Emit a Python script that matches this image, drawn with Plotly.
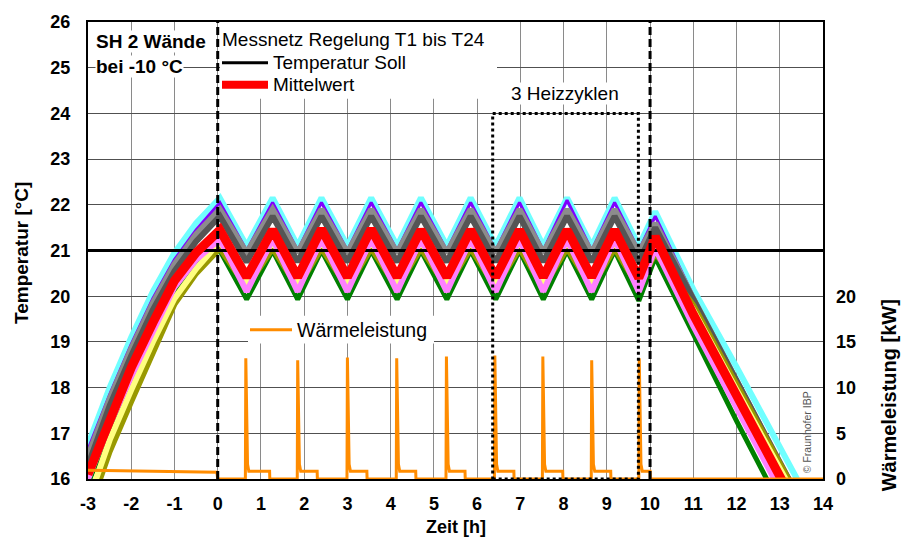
import plotly.graph_objects as go

# ---------------- data ----------------
# shared key times [h]
key_t = [-3.0, -2.5, -2.0, -1.5, -1.0, -0.5,
         0.05, 0.67, 1.27, 1.85, 2.4, 3.0, 3.55, 4.15, 4.7, 5.3, 5.85, 6.43,
         6.98, 7.53, 8.08, 8.65, 9.18, 9.74, 10.12,
         11.0, 12.0, 13.0, 13.6]

# sensor temperatures [°C] at key times
t_cyan   = [16.75, 18.0, 19.1, 20.1, 20.95, 21.6,
            22.15, 21.1, 22.15, 21.1, 22.15, 21.1, 22.15, 21.1, 22.15, 21.1, 22.15, 21.1,
            22.15, 21.1, 22.15, 21.1, 22.15, 21.1, 21.85,
            20.15, 18.45, 16.7, 15.65]
t_purple = [16.65, 17.85, 18.95, 19.95, 20.8, 21.45,
            22.05, 21.0, 22.05, 21.0, 22.05, 21.0, 22.05, 21.0, 22.05, 21.0, 22.05, 21.0,
            22.05, 21.0, 22.1, 21.0, 22.05, 21.0, 21.75,
            20.0, 18.2, 16.4, 15.4]
t_lgray  = [16.5, 17.75, 18.85, 19.85, 20.7, 21.35,
            21.9, 20.95, 21.9, 20.95, 21.9, 20.95, 21.9, 20.95, 21.9, 20.95, 21.9, 20.95,
            21.9, 20.95, 21.9, 20.95, 21.9, 20.95, 21.6,
            19.95, 18.15, 16.35, 15.3]
t_dgray  = [16.3, 17.6, 18.7, 19.7, 20.55, 21.2,
            21.75, 20.75, 21.75, 20.75, 21.75, 20.75, 21.75, 20.75, 21.75, 20.75, 21.75, 20.75,
            21.75, 20.75, 21.75, 20.75, 21.75, 20.75, 21.5,
            19.9, 18.15, 16.35, 15.3]
t_blue   = [16.1, 17.3, 18.4, 19.4, 20.3, 20.9,
            21.3, 20.3, 21.3, 20.3, 21.3, 20.3, 21.3, 20.3, 21.3, 20.3, 21.3, 20.3,
            21.3, 20.3, 21.3, 20.3, 21.3, 20.3, 21.1,
            19.45, 17.7, 15.9, 14.9]
t_green  = [15.9, 17.05, 18.1, 19.15, 20.05, 20.7,
            21.0, 19.93, 21.0, 19.93, 21.0, 19.93, 21.0, 19.93, 21.0, 19.93, 21.0, 19.93,
            21.0, 19.93, 21.0, 19.93, 21.0, 19.9, 20.85,
            19.15, 17.27, 15.45, 14.4]
t_olive  = [15.25, 16.6, 17.7, 18.8, 19.83, 20.5,
            21.05, 20.2, 21.05, 20.2, 21.05, 20.2, 21.05, 20.2, 21.05, 20.2, 21.05, 20.2,
            21.05, 20.2, 21.05, 20.2, 21.05, 20.2, 20.95,
            19.8, 18.05, 16.3, 15.3]
t_yellow = [15.5, 16.85, 17.95, 19.0, 19.95, 20.6,
            21.2, 20.3, 21.2, 20.3, 21.2, 20.3, 21.2, 20.3, 21.2, 20.3, 21.2, 20.3,
            21.2, 20.3, 21.2, 20.3, 21.2, 20.3, 21.05,
            19.7, 17.95, 16.2, 15.2]
t_pink   = [16.0, 17.2, 18.25, 19.25, 20.2, 20.8,
            21.25, 20.1, 21.25, 20.1, 21.25, 20.1, 21.25, 20.1, 21.25, 20.1, 21.25, 20.1,
            21.25, 20.1, 21.25, 20.1, 21.25, 20.1, 21.05,
            19.35, 17.55, 15.75, 14.7]
t_mean   = [16.1, 17.33, 18.44, 19.42, 20.34, 20.95,
            21.45, 20.42, 21.45, 20.42, 21.47, 20.42, 21.47, 20.42, 21.45, 20.42, 21.45, 20.42,
            21.45, 20.42, 21.45, 20.42, 21.45, 20.4, 21.3,
            19.6, 17.85, 16.1, 15.0]

soll_t = [-3, 14]
soll_v = [21, 21]

# heating power [kW]
pre_t = [-3.0, -2.0, -1.0, -0.02, 0.0]
pre_p = [0.95, 0.9, 0.85, 0.75, 0.0]
spike_t = [0.65, 1.85, 3.0, 4.14, 5.29, 6.41, 7.52, 8.65, 9.75]
spike_p = [13.2, 13.0, 13.3, 13.2, 13.4, 13.5, 13.4, 13.0, 13.2]
flat_end = [1.2, 2.3, 3.45, 4.58, 5.72, 6.85, 7.98, 9.09, 10.0]
flat_p = [0.85, 0.85, 0.85, 0.85, 0.85, 0.85, 0.85, 0.85, 0.85]

x_ticks = list(range(-3, 15))
y_ticks = list(range(16, 27))
y2_ticks = [0, 5, 10, 15, 20]

# ---------------- helpers (pixel -> data, layout only) ----------------
L, R, T, B = 88, 823, 20, 479
def X(px):
    return -3 + (px - L) / (R - L) * 17
def Y(py):
    return 16 + (B - py) / (B - T) * 10

FONT = "Liberation Sans, Arial, sans-serif"

fig = go.Figure()

sensors = [
    (t_cyan, "#70FFFF", 6),
    (t_purple, "#8000FF", 3),
    (t_lgray, "#8C8C8C", 6),
    (t_dgray, "#555555", 6),
    (t_blue, "#0000FF", 4),
    (t_green, "#008000", 5),
    (t_olive, "#999900", 6),
    (t_yellow, "#FFFF80", 6),
    (t_pink, "#FF80FF", 6),
]
for vals, col, w in sensors:
    fig.add_trace(go.Scatter(x=key_t, y=vals, mode="lines",
                             line=dict(color=col, width=w), showlegend=False,
                             hoverinfo="skip"))

fig.add_trace(go.Scatter(x=soll_t, y=soll_v, mode="lines",
                         line=dict(color="black", width=3), showlegend=False))
fig.add_trace(go.Scatter(x=key_t, y=t_mean, mode="lines",
                         line=dict(color="#FF0000", width=9), showlegend=False))

# power trace
pw_t = list(pre_t)
pw_p = list(pre_p)
for s, p, e, f in zip(spike_t, spike_p, flat_end, flat_p):
    pw_t += [s - 0.01, s, s + 0.04, s + 0.07, e, e + 0.005]
    pw_p += [0.0, p, 1.6, f, f, 0.0]
pw_t.append(14.0)
pw_p.append(0.0)
fig.add_trace(go.Scatter(x=pw_t, y=pw_p, yaxis="y2", mode="lines",
                         line=dict(color="#FF8C00", width=3), showlegend=False))

# ---------------- shapes ----------------
shapes = []
shapes.append(dict(type="rect", xref="x", yref="y", x0=X(220), x1=X(497), y0=Y(97), y1=26,
                   fillcolor="white", line=dict(width=0), layer="between"))
shapes.append(dict(type="rect", xref="x", yref="y", x0=X(248), x1=X(434), y0=Y(343), y1=Y(315),
                   fillcolor="white", line=dict(width=0), layer="between"))
for xv in [0, 10]:
    shapes.append(dict(type="line", xref="x", yref="y", x0=xv, x1=xv, y0=16, y1=26,
                       line=dict(color="black", width=3, dash="8px,4px"), layer="above"))
shapes.append(dict(type="rect", xref="x", yref="y", x0=6.36, x1=9.73, y0=16, y1=24,
                   line=dict(color="black", width=3, dash="dot"), layer="above"))
shapes.append(dict(type="line", xref="x", yref="y", x0=X(222), x1=X(268), y0=Y(61), y1=Y(61),
                   line=dict(color="black", width=3), layer="above"))
shapes.append(dict(type="line", xref="x", yref="y", x0=X(222), x1=X(268), y0=Y(83), y1=Y(83),
                   line=dict(color="#FF0000", width=8), layer="above"))
shapes.append(dict(type="line", xref="x", yref="y", x0=X(250), x1=X(292), y0=Y(329), y1=Y(329),
                   line=dict(color="#FF8C00", width=3), layer="above"))

# ---------------- annotations ----------------
ann = []
def txt(text, px, py, size=19, bold=False, xanchor="left", bg=None, angle=0, color="black"):
    d = dict(text=f"<b>{text}</b>" if bold else text, xref="x", yref="y",
             x=X(px), y=Y(py), xanchor=xanchor, yanchor="middle", showarrow=False,
             font=dict(family=FONT, size=size, color=color), textangle=angle,
             borderpad=0)
    if bg:
        d["bgcolor"] = bg
    ann.append(d)

txt("SH 2 Wände", 95, 40, 19, True, bg="white")
txt("bei -10 °C", 95, 65, 19, True, bg="white")
txt("Messnetz Regelung T1 bis T24", 221, 38, 19)
txt("Temperatur Soll", 272, 61, 19)
txt("Mittelwert", 272, 83, 19)
txt("3 Heizzyklen", 565, 92, 19, xanchor="center", bg="white")
txt("Wärmeleistung", 296, 329, 19.5)
txt("© Fraunhofer IBP", 807, 432, 10.5, xanchor="center", angle=-90, color="#555555")

ann.append(dict(text="<b>Temperatur [°C]</b>", xref="paper", yref="paper",
                x=(22 - L) / (R - L), y=(B - 252) / (B - T), xanchor="center", yanchor="middle",
                textangle=-90, showarrow=False, font=dict(family=FONT, size=19, color="black")))
ann.append(dict(text="<b>Wärmeleistung [kW]</b>", xref="paper", yref="paper",
                x=(889 - L) / (R - L), y=(B - 395) / (B - T), xanchor="center", yanchor="middle",
                textangle=-90, showarrow=False, font=dict(family=FONT, size=20, color="black")))
ann.append(dict(text="<b>Zeit [h]</b>", xref="paper", yref="paper",
                x=0.5, y=(B - 527) / (B - T), xanchor="center", yanchor="middle",
                showarrow=False, font=dict(family=FONT, size=18, color="black")))

tickfont = dict(family=FONT, size=18, color="black")
fig.update_layout(
    width=903, height=548,
    margin=dict(l=L, r=903 - R, t=T, b=548 - B),
    paper_bgcolor="white", plot_bgcolor="white",
    showlegend=False,
    shapes=shapes, annotations=ann,
    xaxis=dict(range=[-3, 14], tickvals=x_ticks, ticktext=[f"<b>{v}</b>" for v in x_ticks],
               tickfont=tickfont, showgrid=True, gridcolor="#8a8a8a", gridwidth=1,
               showline=True, linecolor="black", linewidth=2, mirror=True,
               ticks="", ticklabelstandoff=7, zeroline=False),
    yaxis=dict(range=[16, 26], tickvals=y_ticks, ticktext=[f"<b>{v}</b>" for v in y_ticks],
               tickfont=tickfont, showgrid=True, gridcolor="#505050", gridwidth=1,
               showline=True, linecolor="black", linewidth=2, mirror=True,
               ticks="", ticklabelstandoff=12, zeroline=False),
    yaxis2=dict(range=[0, 50], overlaying="y", side="right", tickvals=y2_ticks,
                ticktext=[f"<b>{v}</b>" for v in y2_ticks], tickfont=tickfont,
                showgrid=False, zeroline=False, showline=False, ticks="", ticklabelstandoff=12),
)

fig.write_html("out.html")
